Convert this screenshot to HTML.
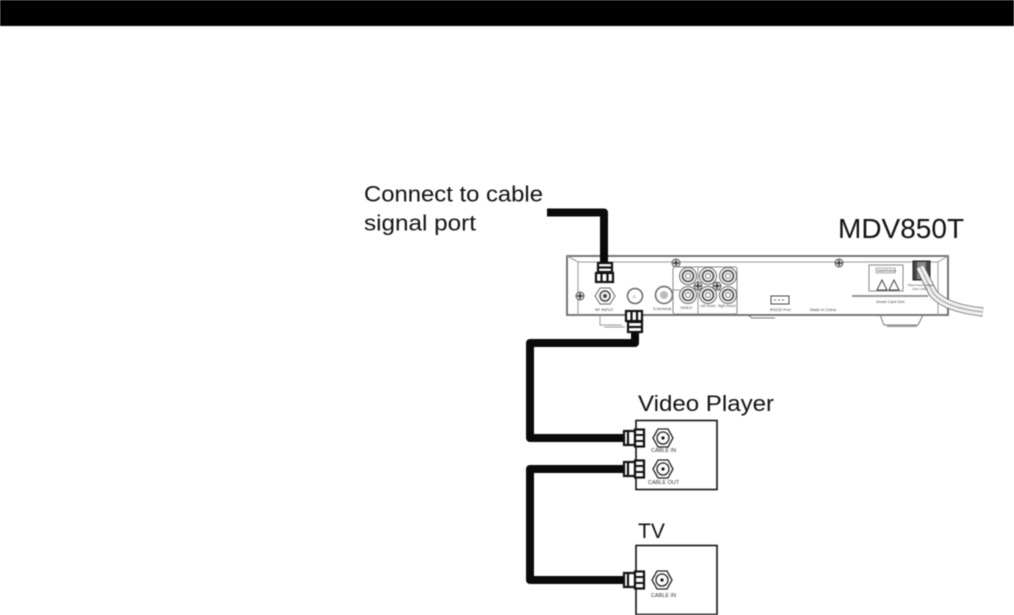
<!DOCTYPE html>
<html><head><meta charset="utf-8"><style>
html,body{margin:0;padding:0;background:#fff;width:1014px;height:615px;overflow:hidden}
svg{display:block;filter:blur(0.4px)}
text{font-family:"Liberation Sans",sans-serif;fill:#111}
.s{font-size:4px;fill:#444}
.j{font-size:5.5px;fill:#333}
</style></head><body>
<svg width="1014" height="615" viewBox="0 0 1014 615" xmlns="http://www.w3.org/2000/svg">
<defs>
<g id="jack"><polygon points="-10,0 -5,-9 5,-9 10,0 5,9 -5,9" fill="#fff" stroke="#222" stroke-width="1.3"/><circle r="6" fill="#fff" stroke="#222" stroke-width="1.3"/><circle r="1.6" fill="#111"/></g>
<g id="rca"><circle r="8.5" fill="#fff" stroke="#666"/><circle r="5.5" fill="#fff" stroke="#555" stroke-width="1.8"/><circle r="2.5" fill="#fff" stroke="#777"/></g>
<g id="screw"><circle r="4" fill="#ddd" stroke="#555"/><path d="M-3 0H3M0-3V3" stroke="#222" stroke-width="1.2"/></g>
<g id="conn" fill="#fff" stroke="#111" stroke-width="2.2"><rect x="0" y="-7" width="11" height="14"/><path d="M4-7V7"/><rect x="11" y="-8.500" width="9" height="17"/><path d="M11-3H20M11 3H20" stroke-width="2"/></g>
</defs>
<rect width="1014" height="26" fill="#000"/>

<text x="364" y="201.500" font-size="22" textLength="179" lengthAdjust="spacingAndGlyphs">Connect to cable</text>
<text x="364" y="230.500" font-size="22" textLength="112" lengthAdjust="spacingAndGlyphs">signal port</text>
<text x="838" y="238" font-size="28">MDV850T</text>
<text x="638" y="411" font-size="22" textLength="136" lengthAdjust="spacingAndGlyphs">Video Player</text>
<text x="638" y="538" font-size="21">TV</text>

<!-- device -->
<path d="M567 256H948V315H567Z" fill="#fff" stroke="#666" stroke-width="1.800"/>
<path d="M567 256L578 262H938L948 256M578 262V315M938 262V315" fill="none" stroke="#999"/>
<path d="M600 315V325H622M604 327H625" fill="none" stroke="#999"/>
<path d="M748 315L752 318H775M880 315L884 325H918L923 315" fill="none" stroke="#777"/>
<rect x="887" y="325" width="30" height="2" fill="#999"/>
<use href="#screw" x="580" y="296"/><use href="#screw" x="676" y="263"/><use href="#screw" x="839" y="263"/>
<polygon points="595,296 600,288 610,288 615,296 610,304 600,304" fill="#fff" stroke="#666"/><circle cx="605" cy="296" r="5" fill="#fff" stroke="#444" stroke-width="1.500"/><circle cx="605" cy="296" r="2" fill="#444"/>
<text class="s" x="595" y="311">RF INPUT</text>
<circle cx="635" cy="296" r="7.500" fill="#fff" stroke="#666" stroke-width="1.500"/><text class="s" x="633" y="298">C</text>
<circle cx="664" cy="295" r="8.500" fill="#fff" stroke="#666" stroke-width="1.500"/><circle cx="664" cy="295" r="4" fill="#bbb"/>
<text class="s" x="653" y="310">S-terminal</text>
<rect x="673" y="267" width="64" height="47" rx="2" fill="#fff" stroke="#888"/>
<path d="M698 267V314M673 290H680M698 290H737" stroke="#999" fill="none"/>
<use href="#rca" x="688" y="276"/><use href="#rca" x="708" y="276"/><use href="#rca" x="728" y="276"/>
<use href="#rca" x="688" y="295"/><use href="#rca" x="708" y="295"/><use href="#rca" x="728" y="295"/>
<use href="#screw" x="698" y="286"/><use href="#screw" x="717" y="286"/>
<text class="s" x="680" y="309">VIDEO</text>
<text class="s" x="700" y="307" style="font-size:3.200px">Left Sound</text><text class="s" x="718" y="307" style="font-size:3.200px">Right Sound</text>
<rect x="771" y="296" width="18" height="8" fill="#fff" stroke="#444"/><path d="M774 300h12" stroke="#666" stroke-dasharray="2 2"/>
<text class="s" x="770" y="311">RS232 Port</text>
<text class="s" x="810" y="311">Made in China</text>
<rect x="869" y="265" width="34" height="26" fill="#fff" stroke="#888"/>
<rect x="876" y="268" width="19" height="5" fill="#fff" stroke="#777" stroke-width=".6"/>
<text class="s" x="877" y="272">WARNING</text>
<path d="M877 290L882 280L887 290ZM889 290L894 280L899 290Z" fill="#fff" stroke="#444"/>
<rect x="852" y="295" width="76" height="2" fill="#999"/>
<text class="s" x="876" y="303">Smart Card Slot</text>
<rect x="913" y="261" width="17" height="19" fill="#444" stroke="#222"/><rect x="917" y="262" width="9" height="17" fill="#888"/>
<path d="M920 267L933 293Q945 308 983 312" fill="none" stroke="#555" stroke-width="9"/>
<path d="M920 267L933 293Q945 308 983 312" fill="none" stroke="#f0f0f0" stroke-width="7.500"/>
<path d="M920 267L933 293Q945 308 983 312" fill="none" stroke="#777" stroke-width=".7"/>
<text class="s" x="908" y="286" style="font-size:3px">Rated input voltage</text>
<text class="s" x="912" y="290" style="font-size:3px">110V~240V</text>

<!-- boxes -->
<rect x="636" y="420.500" width="81" height="69" fill="#fff" stroke="#111" stroke-width="1.600"/>
<rect x="636" y="545.500" width="81" height="69" fill="#fff" stroke="#111" stroke-width="1.600"/>
<use href="#jack" x="663" y="438"/><use href="#jack" x="663" y="469"/><use href="#jack" x="662" y="580"/>
<text class="j" x="651" y="452">CABLE IN</text>
<text class="j" x="648" y="484">CABLE OUT</text>
<text class="j" x="651" y="597">CABLE IN</text>

<!-- cables -->
<g fill="none" stroke="#0a0a0a" stroke-width="8" stroke-linejoin="round">
<path d="M547 212.500H604V266"/>
<path d="M635 330V343H530V438H625"/>
<path d="M625 469H530V580H625"/>
</g>
<g fill="#fff" stroke="#111" stroke-width="2.200">
<rect x="598" y="263" width="14" height="9"/><path d="M598 267.500H612"/>
<rect x="596" y="273" width="17" height="9"/><path d="M601.500 273V282M607.500 273V282"/>
<rect x="626" y="311" width="16" height="10"/><path d="M631.500 311V321M637 311V321"/>
<rect x="628" y="322" width="14" height="10"/><path d="M628 327H642"/>
</g>
<use href="#conn" x="624" y="438"/><use href="#conn" x="624" y="469"/><use href="#conn" x="624" y="580"/>
</svg>
</body></html>
